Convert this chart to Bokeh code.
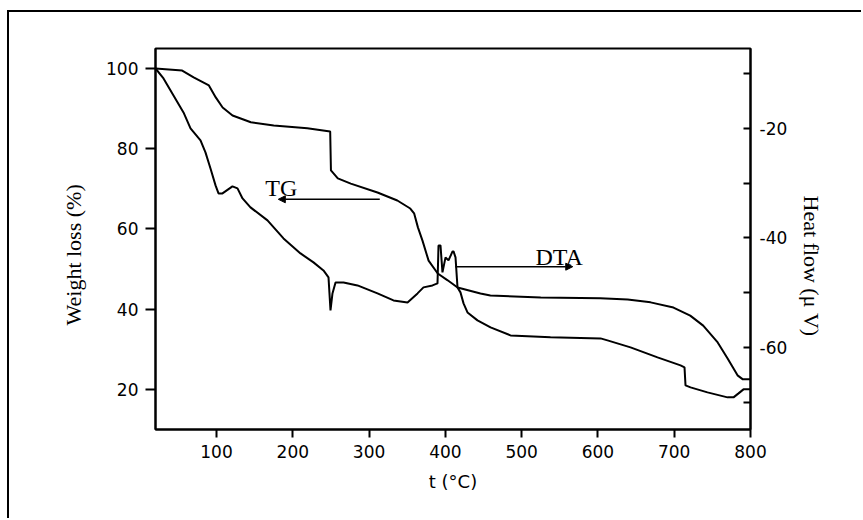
from bokeh.plotting import figure
from bokeh.models import Range1d, LinearAxis, FixedTicker, Arrow, NormalHead, Label, Title
from bokeh.embed import file_html
from bokeh.resources import INLINE

# ---- data ----
tg_t = [20, 55, 70, 90, 99, 108, 121, 145, 175, 219, 249, 250, 259, 276, 311, 337, 354,
        359, 364, 370, 378, 390, 403, 416, 446, 459, 525, 603, 639, 669, 699, 721, 738,
        757, 770, 783, 790, 800]
tg_w = [100, 99.5, 97.8, 95.8, 92.8, 90.3, 88.3, 86.6, 85.8, 85.1, 84.3, 74.6, 72.6, 71.3,
        69.1, 67.1, 65.1, 63.9, 60.4, 57.1, 52.1, 48.9, 47.2, 45.4, 43.9, 43.4, 42.9, 42.7,
        42.4, 41.7, 40.4, 38.4, 35.9, 31.7, 27.7, 23.5, 22.5, 22.5]

dta_t = [20, 30.5, 43.6, 56.7, 65.9, 79, 85.5, 92.1, 98.7, 102.6, 107.8, 120.9, 127.5,
         134.1, 144.5, 166.8, 187.8, 210.1, 227.1, 240.2, 246.8, 249.4, 252, 256, 266.5,
         284.8, 311, 332, 350.4, 363.5, 371.3, 383.1, 389.7, 391, 393.6, 396.2, 400.2,
         404.1, 409.4, 410.7, 413.3, 415.9, 419.8, 423.8, 429, 442.1, 459.2, 485.4, 537.8,
         603.4, 612.5, 642.7, 678.1, 708.3, 713.5, 714.8, 721.4, 743.6, 769.9, 777.7,
         784.3, 790.8, 800]
dta_h = [-9.04, -10.87, -13.97, -17.08, -20.0, -22.19, -24.38, -27.31, -30.41, -31.87,
         -31.87, -30.59, -30.96, -32.79, -34.43, -36.8, -40.09, -42.83, -44.47, -45.94,
         -47.21, -53.24, -50.14, -48.13, -48.13, -48.68, -50.14, -51.42, -51.78, -50.14,
         -49.04, -48.68, -48.31, -41.37, -41.37, -46.3, -43.56, -44.11, -42.47, -42.47,
         -43.56, -49.04, -49.95, -51.96, -53.61, -55.07, -56.35, -57.81, -58.17, -58.36,
         -58.72, -60.0, -61.83, -63.29, -63.65, -66.94, -67.31, -68.22, -69.13, -69.13,
         -68.4, -67.67, -67.67]

x_ticks = [100, 200, 300, 400, 500, 600, 700, 800]
left_ticks = [20, 40, 60, 80, 100]
right_ticks = [-60, -40, -20]
right_minor = [-70, -50, -30, -10]
right_tick_labels = {-60: "-60", -40: "-40", -20: "-20"}

W, H = 854, 508
p = figure(width=W, height=H, output_backend="svg", toolbar_location=None,
           x_range=Range1d(20, 800), y_range=Range1d(10, 105),
           min_border_left=146, min_border_right=113, min_border_top=36,
           min_border_bottom=91)
p.styles = {"margin-left": "7px", "margin-top": "10px",
            "border-left": "2px solid black", "border-top": "2px solid black"}
p.background_fill_color = "white"
p.border_fill_color = "white"
p.grid.visible = False
p.outline_line_color = "black"
p.outline_line_width = 2
p.outline_line_alpha = 1

p.extra_y_ranges = {"dta": Range1d(-75, -5.4)}

tick_font = "DejaVu Sans"

xa = p.xaxis[0]
xa.ticker = FixedTicker(ticks=x_ticks, minor_ticks=[])
xa.axis_label = "t (°C)"
xa.axis_label_text_font = "DejaVu Sans"
xa.axis_label_text_font_size = "18px"
xa.axis_label_text_font_style = "normal"
xa.axis_label_standoff = 10
xa.major_tick_out = 8
xa.major_tick_in = 0
xa.major_label_standoff = 7

ya = p.yaxis[0]
ya.ticker = FixedTicker(ticks=left_ticks, minor_ticks=[])
ya.major_tick_out = 10
ya.major_tick_in = 0
ya.major_label_standoff = 7

ra = LinearAxis(y_range_name="dta",
                ticker=FixedTicker(ticks=right_ticks, minor_ticks=right_minor))
ra.major_label_overrides = right_tick_labels
ra.major_tick_in = 7
ra.major_tick_out = 0
ra.minor_tick_in = 7
ra.minor_tick_out = 0
ra.major_label_standoff = 9
p.add_layout(ra, "right")

for ax in (xa, ya, ra):
    ax.axis_line_color = "black"
    ax.axis_line_width = 2
    ax.major_tick_line_color = "black"
    ax.major_tick_line_width = 2
    ax.minor_tick_line_color = "black"
    ax.minor_tick_line_width = 2
    ax.major_label_text_font = tick_font
    ax.major_label_text_font_size = "17px"
    ax.major_label_text_color = "black"
    ax.axis_label_text_color = "black"

p.line(tg_t, tg_w, line_color="black", line_width=2)
p.line(dta_t, dta_h, y_range_name="dta", line_color="black", line_width=2)

# axis titles as side titles (allows the reference's off-centre placement)
p.add_layout(Title(text="Weight loss (%)", align="left", offset=104, standoff=36,
                   text_font="Liberation Serif", text_font_size="22px",
                   text_font_style="normal", text_color="black"), "left")
p.add_layout(Title(text="Heat flow (μ V)", align="left", offset=147, standoff=16,
                   text_font="Liberation Serif", text_font_size="22px",
                   text_font_style="normal", text_color="black"), "right")

# annotations
p.add_layout(Arrow(end=NormalHead(size=7, fill_color="black", line_color="black"),
                   x_start=314, y_start=67.4, x_end=181, y_end=67.4,
                   line_color="black", line_width=1.5))
p.add_layout(Arrow(end=NormalHead(size=7, fill_color="black", line_color="black"),
                   x_start=413, y_start=50.6, x_end=567, y_end=50.6,
                   line_color="black", line_width=1.5))
p.add_layout(Label(x=164, y=70.1, text="TG", text_font="Liberation Serif",
                   text_font_size="24px", text_baseline="alphabetic", text_color="black"))
p.add_layout(Label(x=518, y=52.9, text="DTA", text_font="Liberation Serif",
                   text_font_size="24px", text_baseline="alphabetic", text_color="black"))

open("out.html", "w").write(file_html(p, INLINE))
